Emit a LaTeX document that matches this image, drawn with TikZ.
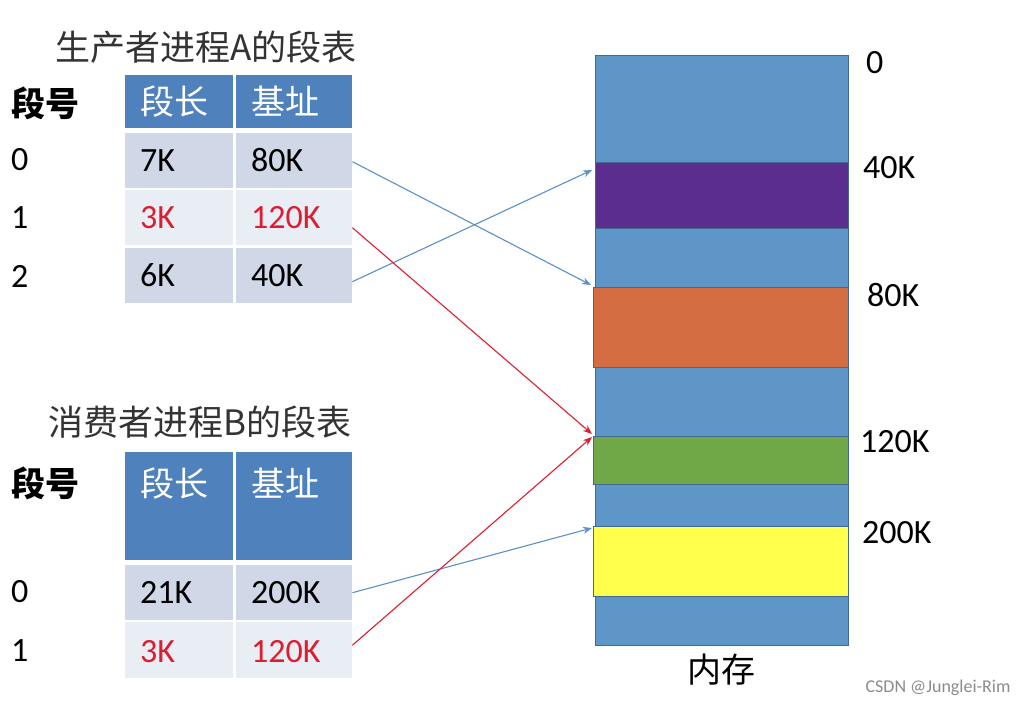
\documentclass[tikz,border=0pt]{standalone}
\usepackage{fontspec}
\setmainfont{Carlito}
\newfontfamily\cjk{Noto Sans CJK SC}
\usetikzlibrary{arrows.meta,positioning}
\definecolor{headblue}{RGB}{79,129,189}
\definecolor{rowdark}{RGB}{208,216,232}
\definecolor{rowlight}{RGB}{233,237,244}
\definecolor{memblue}{RGB}{95,150,200}
\definecolor{memedge}{RGB}{65,105,150}
\definecolor{segpurple}{RGB}{91,45,142}
\definecolor{segorange}{RGB}{213,109,67}
\definecolor{seggreen}{RGB}{112,168,72}
\definecolor{segyellow}{RGB}{255,255,76}
\definecolor{hotred}{RGB}{220,30,50}
\definecolor{arrblue}{RGB}{90,145,200}
\tikzset{
 big/.style={font=\fontsize{34}{38}\selectfont},
 cell/.style={big,anchor=north west,inner xsep=15pt,inner ysep=0pt,
  text height=38pt,text depth=17pt,align=left},
 colone/.style={cell,text width=78pt},
 coltwo/.style={cell,text width=86pt},
 head/.style={fill=headblue,text=white,font=\cjk\fontsize{34}{38}\selectfont},
 seg/.style={anchor=north west,draw=memedge,line width=.8pt,minimum width=255pt,inner sep=0pt},
 memlbl/.style={big,anchor=west,inner sep=0pt},
 rowno/.style={big,anchor=west,inner sep=0pt},
 map/.style={-{Stealth[length=9pt,width=7pt]},line width=1.1pt,arrblue},
 hotmap/.style={map,hotred}
}
\begin{document}
\begin{tikzpicture}[x=1pt,y=-1pt]
\useasboundingbox[fill=white] (0,0) rectangle (1028,706);
% producer A
\node[font=\cjk\fontsize{35}{38}\selectfont,text=black!80] (ttla) at (206,47) {生产者进程A的段表};
\node[font=\cjk\bfseries\fontsize{34}{38}\selectfont,anchor=west,inner sep=0pt] (noa) at (11,103) {段号};
\node[colone,head,text height=39pt,text depth=14pt] (ha1) at (125,75) {段长};
\node[coltwo,head,text height=39pt,text depth=14pt] (ha2) at (236,75) {基址};
\node[colone,fill=rowdark] (a01) at (125,133) {7K};
\node[coltwo,fill=rowdark] (a02) at (236,133) {80K};
\node[colone,fill=rowlight,text=hotred] (a11) at (125,190) {3K};
\node[coltwo,fill=rowlight,text=hotred] (a12) at (236,190) {120K};
\node[colone,fill=rowdark] (a21) at (125,248) {6K};
\node[coltwo,fill=rowdark] (a22) at (236,248) {40K};
\node[rowno] (ra0) at (11,160) {0};
\node[rowno] (ra1) at (11,218) {1};
\node[rowno] (ra2) at (11,276) {2};
% consumer B
\node[font=\cjk\fontsize{35}{38}\selectfont,text=black!80] (ttlb) at (200,422) {消费者进程B的段表};
\node[font=\cjk\bfseries\fontsize{34}{38}\selectfont,anchor=west,inner sep=0pt] (nob) at (11,483) {段号};
\node[colone,head,text height=44pt,text depth=64pt] (hb1) at (125,452) {段长};
\node[coltwo,head,text height=44pt,text depth=64pt] (hb2) at (236,452) {基址};
\node[colone,fill=rowdark] (b01) at (125,565) {21K};
\node[coltwo,fill=rowdark] (b02) at (236,565) {200K};
\node[colone,fill=rowlight,text=hotred,text height=40pt,text depth=16pt] (b11) at (125,622) {3K};
\node[coltwo,fill=rowlight,text=hotred,text height=40pt,text depth=16pt] (b12) at (236,622) {120K};
\node[rowno] (rb0) at (11,592) {0};
\node[rowno] (rb1) at (11,651) {1};
% memory
\node[seg,fill=memblue,minimum width=253pt,minimum height=590pt] (mem) at (595,55) {};
\node[seg,fill=segpurple,minimum width=253pt,minimum height=66pt] (m40) at (595,162) {};
\node[seg,fill=segorange,minimum height=80pt] (m80) at (593,287) {};
\node[seg,fill=seggreen,minimum height=48pt] (m120) at (593,436) {};
\node[seg,fill=segyellow,minimum height=70pt] (m200) at (593,526) {};
\node[font=\cjk\fontsize{34}{38}\selectfont,inner sep=0pt,below=8pt of mem] (memname) {内存};
\node[memlbl] (l0) at (866,63) {0};
\node[memlbl] (l40) at (863,168) {40K};
\node[memlbl] (l80) at (867,295) {80K};
\node[memlbl] (l120) at (860,442) {120K};
\node[memlbl] (l200) at (862,533) {200K};
% mappings
\draw[map] ([yshift=-1pt]a02.east) -- ([xshift=-2pt,yshift=2pt]m80.north west);
\draw[map] ([yshift=-6pt]a22.east) -- ([xshift=-3pt,yshift=-8pt]m40.north west);
\draw[hotmap] ([yshift=-10pt]a12.east) -- ([xshift=-1pt,yshift=2pt]m120.north west);
\draw[map] (b02.east) -- ([xshift=-1pt,yshift=-2pt]m200.north west);
\draw[hotmap] ([yshift=5pt]b12.east) -- ([xshift=-1pt,yshift=-1pt]m120.north west);
\node[font=\fontsize{18}{20}\selectfont,text=black!45,anchor=east] (mark) at (1014,688) {CSDN @Junglei-Rim};
\end{tikzpicture}
\end{document}
